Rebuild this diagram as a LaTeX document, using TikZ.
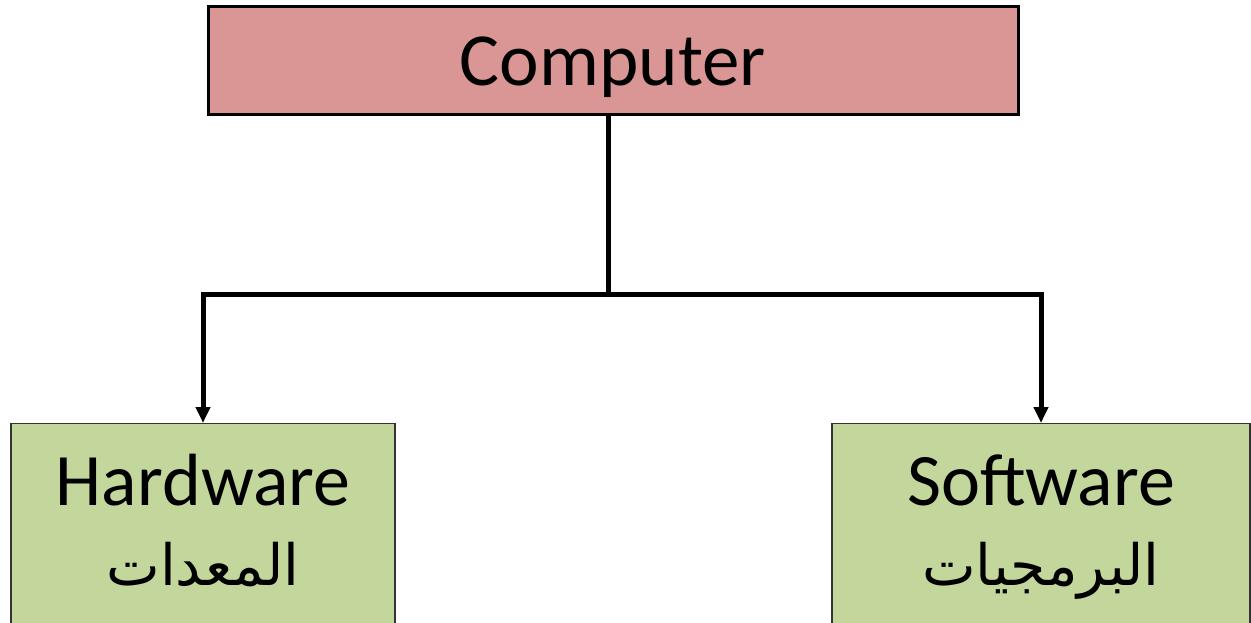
\documentclass[tikz,border=0pt]{standalone}
\usepackage{fontspec}
\setmainfont{Carlito}
\newfontfamily\arabicfont[Script=Arabic]{DejaVu Sans}
\TeXXeTstate=1
\usetikzlibrary{arrows.meta,positioning}
\definecolor{toppink}{RGB}{218,150,148}
\definecolor{leafgreen}{RGB}{195,214,155}
\newcommand{\arab}[1]{{\arabicfont\fontsize{57}{70}\selectfont\beginR #1\endR}}
\tikzset{top/.style={draw,line width=3pt,fill=toppink,minimum width=810pt,minimum height=108pt,inner sep=0pt,text depth=0pt,font=\fontsize{75}{80}\selectfont},
  leaf/.style={draw=black!80,line width=1.2pt,fill=leafgreen,minimum width=384pt,inner sep=0pt,align=center,anchor=north,text height=162pt,text depth=60pt,font=\fontsize{74}{80}\selectfont},
  link/.style={line width=5pt},
  linkarrow/.style={link,-{Triangle[width=14pt,length=16pt]}}}
\begin{document}
\begin{tikzpicture}[x=1pt,y=-1pt]
\useasboundingbox (0,0) rectangle (1251,623);
\node[top] (comp) at (613,61) {Computer};
\node[leaf] (hw) at (203,423) {Hardware\\\arab{المعدات}};
\node[leaf,minimum width=418pt] (sw) at (1041,423) {Software\\\arab{البرمجيات}};
\coordinate (split) at (608,294);
\draw[link] (comp.south -| split) -- (split);
\draw[linkarrow] (split) -| (hw.north);
\draw[linkarrow] (split) -| (sw.north);
\end{tikzpicture}
\end{document}
